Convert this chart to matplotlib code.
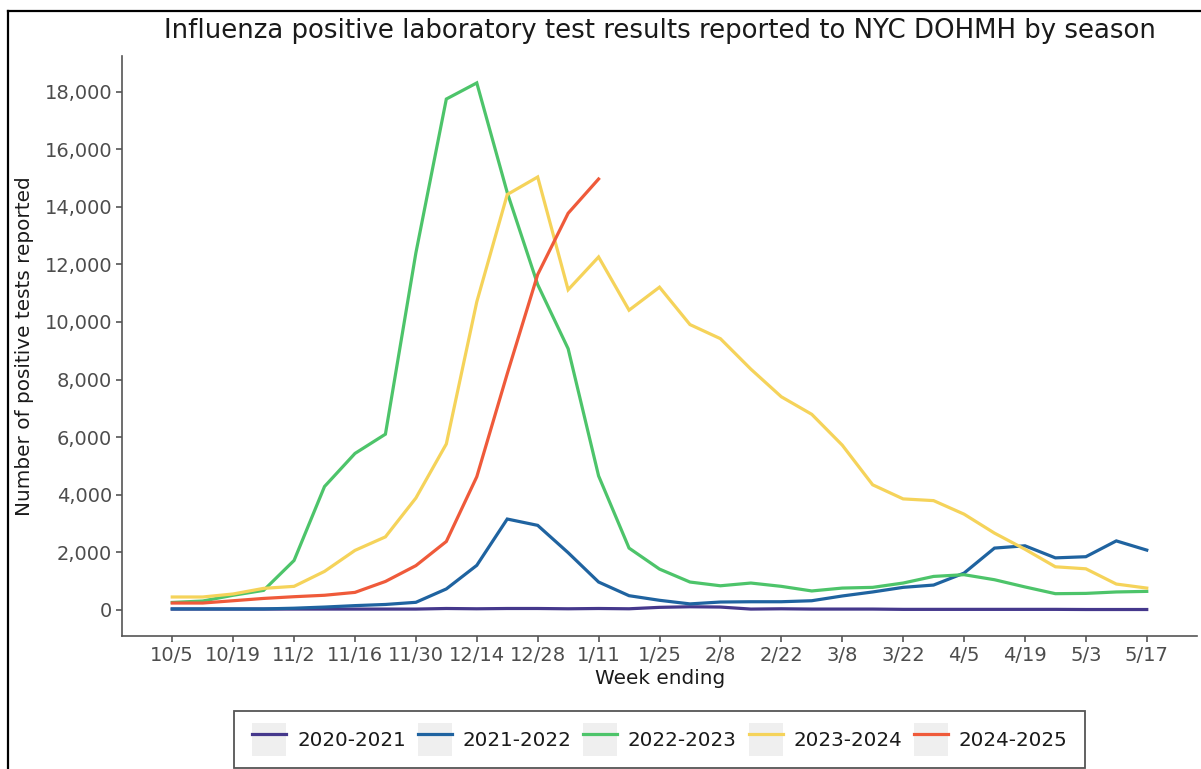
import matplotlib
matplotlib.use("Agg")
import matplotlib.pyplot as plt
from matplotlib.lines import Line2D
from matplotlib.patches import Patch, Rectangle
from matplotlib.legend_handler import HandlerTuple
from matplotlib.ticker import FuncFormatter

weeks = ["10/5", "10/12", "10/19", "10/26", "11/2", "11/9", "11/16", "11/23", "11/30",
         "12/7", "12/14", "12/21", "12/28", "1/4", "1/11", "1/18", "1/25", "2/1", "2/8",
         "2/15", "2/22", "3/1", "3/8", "3/15", "3/22", "3/29", "4/5", "4/12", "4/19",
         "4/26", "5/3", "5/10", "5/17"]

s2020 = [20, 20, 20, 20, 20, 20, 20, 20, 20, 40, 30, 40, 40, 30, 40, 30, 80, 100, 90,
         20, 30, 20, 20, 20, 10, 10, 10, 10, 10, 10, 5, 5, 5]
s2021 = [25, 25, 25, 25, 50, 90, 140, 180, 255, 720, 1540, 3150, 2930, 1980, 960, 485,
         325, 200, 265, 275, 275, 310, 475, 615, 775, 855, 1270, 2140, 2220, 1800, 1840,
         2390, 2070]
s2022 = [250, 300, 500, 670, 1710, 4280, 5430, 6100, 12400, 17750, 18310, 14500, 11300,
         9070, 4650, 2140, 1410, 960, 830, 925, 810, 650, 750, 775, 925, 1155, 1215,
         1040, 790, 555, 565, 615, 635]
s2023 = [440, 440, 545, 740, 810, 1330, 2060, 2530, 3880, 5760, 10700, 14430, 15040,
         11120, 12260, 10410, 11210, 9910, 9420, 8360, 7400, 6790, 5720, 4340, 3850,
         3790, 3320, 2660, 2100, 1490, 1420, 890, 750]
s2024 = [230, 230, 310, 390, 450, 500, 600, 980, 1530, 2370, 4620, 8200, 11650, 13780,
         14970]

seasons = ["2020-2021", "2021-2022", "2022-2023", "2023-2024", "2024-2025"]
series = [s2020, s2021, s2022, s2023, s2024]
colors = ["#45388C", "#1F63A0", "#4DC46A", "#F5D35A", "#EF5A3A"]

tick_idx = list(range(0, len(weeks), 2))
tick_labels = [weeks[i] for i in tick_idx]

fig = plt.figure(figsize=(12.01, 7.69), dpi=100)
W, H = 1201, 769
ax = fig.add_axes([122 / W, 1 - 636 / H, (1197 - 122) / W, (636 - 56) / H])

for name, vals, c in zip(seasons, series, colors):
    ax.plot(range(len(vals)), vals, color=c, lw=2.3, solid_joinstyle="miter",
            label=name)

ax.set_xlim(-1.65, 33.65)
ax.set_ylim(-916, 19246)
ax.set_xticks(tick_idx)
ax.set_xticklabels(tick_labels)
ax.set_yticks(range(0, 18001, 2000))
ax.yaxis.set_major_formatter(FuncFormatter(lambda v, p: f"{int(v):,}"))

for s in ["top", "right"]:
    ax.spines[s].set_visible(False)
for s in ["left", "bottom"]:
    ax.spines[s].set_color("#555555")
    ax.spines[s].set_linewidth(1.2)
ax.tick_params(axis="both", colors="#555555", length=4, width=1.2,
               labelsize=14.0, labelcolor="#4D4D4D", pad=3)

fig.text(660 / W, 1 - 31 / H, "Influenza positive laboratory test results reported to NYC DOHMH by season",
         ha="center", va="center", fontsize=18.7, color="#1a1a1a")
fig.text(25 / W, 1 - 346 / H, "Number of positive tests reported", rotation=90,
         ha="center", va="center", fontsize=14.4, color="#1a1a1a")
fig.text(660 / W, 1 - 679 / H, "Week ending", ha="center", va="center",
         fontsize=14.4, color="#1a1a1a")

handles = [(Patch(facecolor="#EFEFEF", edgecolor="none"),
            Line2D([], [], color=c, lw=2.3)) for c in colors]
leg = fig.legend(handles, seasons, loc="center", bbox_to_anchor=(660 / W, 1 - 739.5 / H),
                 ncol=5, frameon=False, fontsize=14.3, handlelength=1.7,
                 handleheight=2.25, handletextpad=0.55, columnspacing=0.6,
                 handler_map={tuple: HandlerTuple(ndivide=1, pad=0)})
for t in leg.get_texts():
    t.set_color("#1a1a1a")

fig.add_artist(Rectangle((234 / W, 1 - 768 / H), (1085 - 234) / W, (768 - 711) / H,
                         transform=fig.transFigure, facecolor="none",
                         edgecolor="#555555", lw=1.3))
fig.add_artist(Line2D([8 / W, 8 / W], [0, 1 - 11 / H], transform=fig.transFigure,
                      color="black", lw=1.6))
fig.add_artist(Line2D([8 / W, 1], [1 - 11 / H, 1 - 11 / H], transform=fig.transFigure,
                      color="black", lw=1.6))

fig.savefig("out.png", dpi=100)
